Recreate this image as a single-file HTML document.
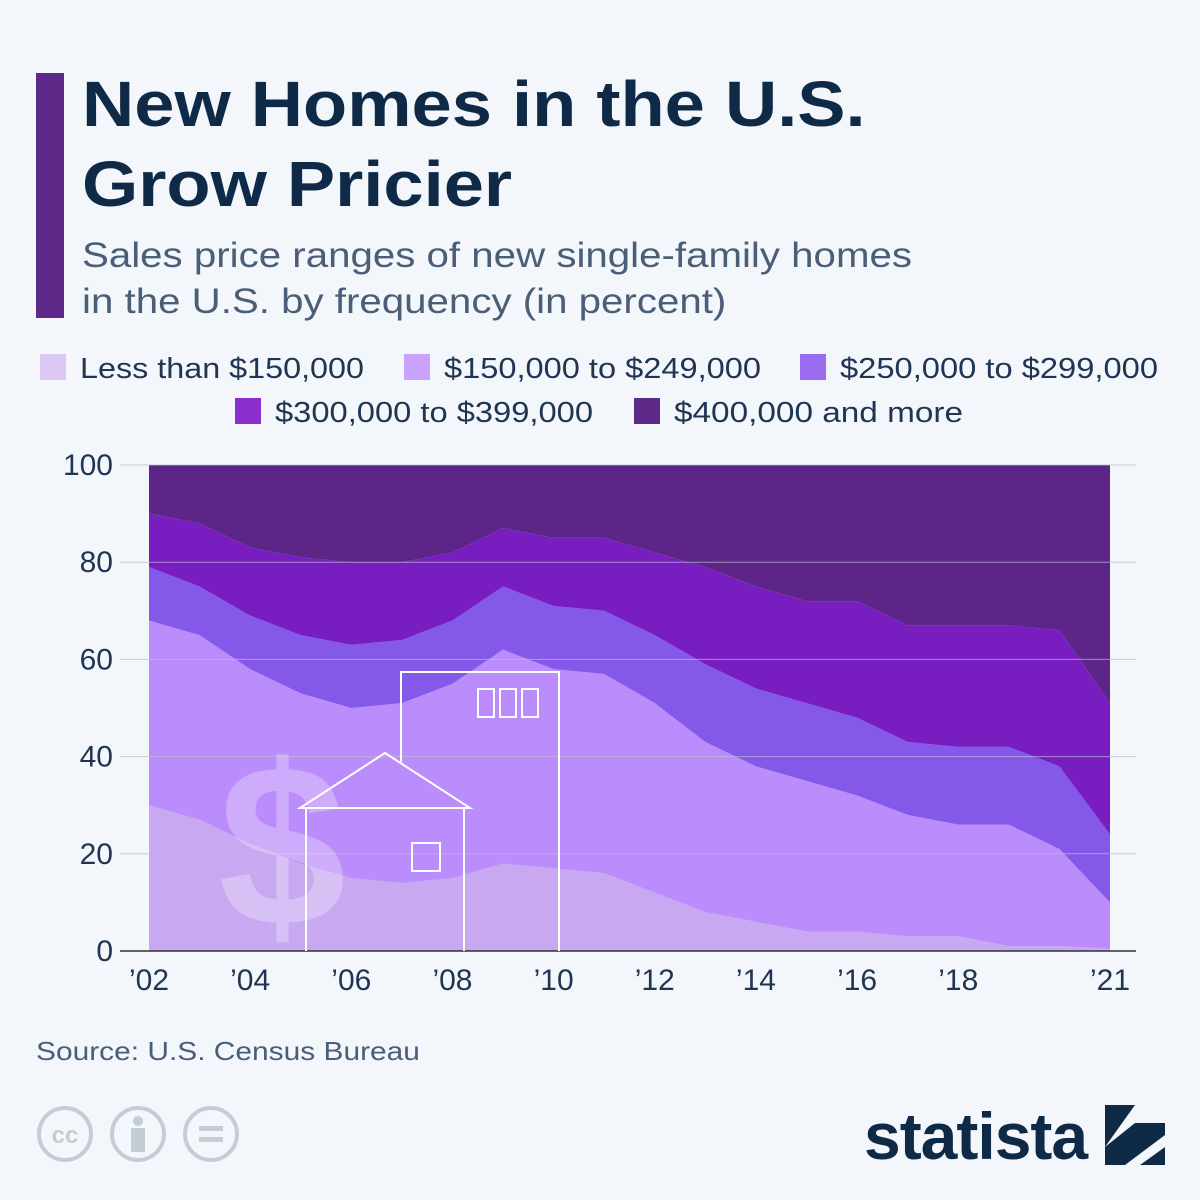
<!DOCTYPE html>
<html><head><meta charset="utf-8"><style>
body{margin:0;width:1200px;height:1200px;background:#f3f6fa;font-family:"Liberation Sans",sans-serif;position:relative;overflow:hidden}
.t{position:absolute}
.sx{transform-origin:0 0;white-space:nowrap}
</style></head><body>
<div class="t" style="left:36px;top:73px;width:28px;height:245px;background:#5e2a8a"></div>
<div class="t sx" style="left:82px;top:64px;font-size:64px;font-weight:bold;color:#0f2a47;line-height:80px;transform:scaleX(1.13)">New Homes in the U.S.<br>Grow Pricier</div>
<div class="t sx" style="left:82px;top:233px;font-size:35px;color:#4a5e78;line-height:46px;transform:scaleX(1.15)">Sales price ranges of new single-family homes<br>in the U.S. by frequency (in percent)</div>
<svg class="t" style="left:0;top:0" width="1200" height="1200" id="svg"></svg>
<div class="t sx" style="left:36px;top:1036px;font-size:26px;color:#4a5e78;transform:scaleX(1.15)">Source: U.S. Census Bureau</div>
<div class="t" style="left:864px;top:1098px;font-size:66px;font-weight:bold;color:#0f2a47;letter-spacing:-1px">statista</div>
<svg class="t" style="left:1105px;top:1105px" width="60" height="60"><rect width="60" height="60" fill="#0f2a47"/><path d="M0 42 L30 18 L60 18 L60 0 L30 0 Z M0 60 L0 42 M30 42 L60 42" fill="#f3f6fa"/><path d="M20 60 L60 30 L60 42 L35 60Z" fill="#f3f6fa"/></svg>
<svg class="t" style="left:36px;top:1106px" width="210" height="56">
<g fill="none" stroke="#c4ccd6" stroke-width="4"><circle cx="29" cy="28" r="26"/><circle cx="102" cy="28" r="26"/><circle cx="175" cy="28" r="26"/></g>
<text x="29" y="37" text-anchor="middle" font-size="24" font-weight="bold" fill="#c4ccd6" font-family="Liberation Sans">cc</text>
<circle cx="102" cy="15" r="5" fill="#c4ccd6"/><rect x="95" y="22" width="14" height="24" fill="#c4ccd6"/>
<rect x="163" y="20" width="24" height="5" fill="#c4ccd6"/><rect x="163" y="31" width="24" height="5" fill="#c4ccd6"/>
</svg>
<script>
const years=[2002,2003,2004,2005,2006,2007,2008,2009,2010,2011,2012,2013,2014,2015,2016,2017,2018,2019,2020,2021];
const under150=[30,27,22,18,15,14,15,18,17,16,12,8,6,4,4,3,3,1,1,0.5];
const r150to249=[38,38,36,35,35,37,40,44,41,41,39,35,32,31,28,25,23,25,20,9.5];
const r250to299=[11,10,11,12,13,13,13,13,13,13,14,16,16,16,16,15,16,16,17,14];
const r300to399=[11,13,14,16,17,16,14,12,14,15,17,20,21,21,24,24,25,25,28,27];
const over400=[10,12,17,19,20,20,18,13,15,15,18,21,25,28,28,33,33,33,34,49];
const seriesNames=["Less than $150,000","$150,000 to $249,000","$250,000 to $299,000","$300,000 to $399,000","$400,000 and more"];
const yTicks=[0,20,40,60,80,100];
const xTickLabels=["’02","’04","’06","’08","’10","’12","’14","’16","’18","’21"];
const xTickYears=[2002,2004,2006,2008,2010,2012,2014,2016,2018,2021];
const areaColors=["#c8a8f0","#bb8cfc","#8458e8","#781dc0","#5c2587"];
const legendColors=["#dcc6f3","#c9a3fb","#9a6cf0","#8c2fd0","#5e2a8a"];
const NS="http://www.w3.org/2000/svg",svg=document.getElementById('svg');
const X=y=>149+(y-2002)*(1110-149)/19, Y=v=>951-v*4.86;
function mk(t,a,p){const e=document.createElementNS(NS,t);for(const k in a)e.setAttribute(k,a[k]);(p||svg).appendChild(e);return e;}
const all=[under150,r150to249,r250to299,r300to399,over400];
let base=years.map(()=>0);
all.forEach((s,i)=>{
 const top=base.map((b,j)=>b+s[j]);
 let d="M"+years.map((y,j)=>X(y)+","+Y(top[j])).join("L");
 for(let j=years.length-1;j>=0;j--)d+="L"+X(years[j])+","+Y(base[j]);
 const p=mk('path',{d:d+"Z",fill:areaColors[i]});
 
 
 base=top;
});
yTicks.forEach(v=>{
 const l=mk('line',{x1:120,x2:1136,y1:Y(v),y2:Y(v),stroke:v===0?"#333":"#b8c0cc","stroke-width":v===0?1.5:1,opacity:v===0?1:0.7});
 
 
 const t=mk('text',{x:113,y:Y(v)+10,"text-anchor":"end","font-size":30,fill:"#1f3552","font-family":"Liberation Sans"});
 t.textContent=v;
 
 
});
xTickLabels.forEach((lb,i)=>{
 const t=mk('text',{x:X(xTickYears[i]),y:990,"text-anchor":"middle","font-size":30,fill:"#1f3552","font-family":"Liberation Sans"});
 t.textContent=lb;
 
 
});
const g=mk('g',{fill:"none",stroke:"#fff","stroke-width":2});


mk('path',{d:"M306 951V808H464V951M300 808L385 753L470 808ZM401 762V672H559V951"},g);
mk('rect',{x:412,y:843,width:28,height:28},g);
[478,500,522].forEach(x=>mk('rect',{x:x,y:689,width:16,height:28},g));
const ds=mk('text',{x:282,y:925,"text-anchor":"middle","font-size":230,"font-weight":"bold",fill:"#fff",opacity:0.28,"font-family":"Liberation Sans"});
ds.textContent="$";


const leg=[[40,368],[404,368],[800,368],[235,412],[634,412]];
const legW=[284,317,318,318,289];
seriesNames.forEach((n,i)=>{
 const r=mk('rect',{x:leg[i][0],y:leg[i][1]-14,width:26,height:26,fill:legendColors[i]});
 
 
 const t=mk('text',{x:leg[i][0]+40,y:leg[i][1]+10,"font-size":29,fill:"#1f3552","font-family":"Liberation Sans",textLength:legW[i],lengthAdjust:"spacingAndGlyphs"});
 t.textContent=n;
 
 
});
</script>
</body></html>
